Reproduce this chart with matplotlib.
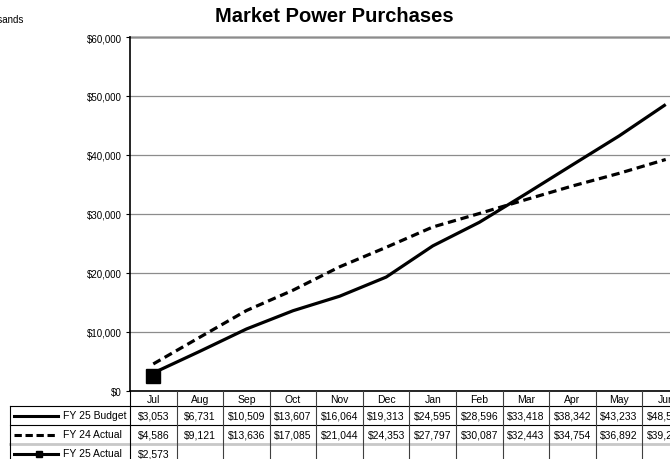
import matplotlib
matplotlib.use("Agg")
import matplotlib.pyplot as plt
from matplotlib.lines import Line2D
from matplotlib.ticker import FuncFormatter, MultipleLocator
import numpy as np

months = ["Jul", "Aug", "Sep", "Oct", "Nov", "Dec", "Jan", "Feb", "Mar", "Apr", "May", "Jun"]
fy25_budget = [3053, 6731, 10509, 13607, 16064, 19313, 24595, 28596, 33418, 38342, 43233, 48560]
fy24_actual = [4586, 9121, 13636, 17085, 21044, 24353, 27797, 30087, 32443, 34754, 36892, 39240]
fy25_actual = [2573]
series_names = ["FY 25 Budget", "FY 24 Actual", "FY 25 Actual"]

W, H = 670, 460
plt.rcParams['font.family'] = ['Liberation Sans', 'DejaVu Sans']
fig = plt.figure(figsize=(W / 100, H / 100), dpi=100)

def fx(px):
    return px / W

def fy(py):
    return (H - py) / H

# plot area in pixels
L, R, T, B = 130, 689, 38, 392
ax = fig.add_axes([fx(L), fy(B), fx(R - L), (B - T) / H])

x = np.arange(len(months))
lw = 2.3
ax.plot(x, fy25_budget, color="black", lw=lw, solid_capstyle="butt", zorder=3)
ax.plot(x, fy24_actual, color="black", lw=lw, dashes=(2.6, 1.5), zorder=3)
ax.plot(np.arange(len(fy25_actual)), fy25_actual, color="black", lw=lw,
        marker="s", markersize=9.5, zorder=4)

ax.set_xlim(-0.5, len(months) - 0.5)
ax.set_ylim(0, 60000)
ax.yaxis.set_major_locator(MultipleLocator(10000))
ax.yaxis.set_major_formatter(FuncFormatter(lambda v, p: f"${v:,.0f}"))
ax.tick_params(axis="y", direction="out", length=3, width=0.8, labelsize=7, pad=3)
ax.tick_params(axis="x", bottom=False, labelbottom=False)
ax.grid(axis="y", color="#8c8c8c", lw=0.9, zorder=0)
for s in ["top", "right"]:
    ax.spines[s].set_visible(False)
ax.spines["left"].set_linewidth(1.2)
ax.spines["bottom"].set_linewidth(1.2)
ax.axhline(60000, color="#a0a0a0", lw=1.8, zorder=1, clip_on=False)

# title and unit note
fig.text(fx(334), fy(17), "Market Power Purchases", ha="center", va="center",
         fontsize=14.5, fontweight="bold")
fig.text(fx(23), fy(20), "$ in Thousands", ha="right", va="center", fontsize=7)

# data table
cell_font = ['Liberation Sans', 'DejaVu Sans']
colw = (R - L) / len(months)
row_tops = [392, 407, 426, 445, 464]

def hline(y, x0, x1, color="black", lw=0.8):
    fig.add_artist(Line2D([fx(x0), fx(x1)], [fy(y), fy(y)], color=color, lw=lw))

def vline(xp, y0, y1, color="black", lw=0.8):
    fig.add_artist(Line2D([fx(xp), fx(xp)], [fy(y0), fy(y1)], color=color, lw=lw))

hline(407, 10, R)
hline(426, 10, R)
hline(445, 10, R, color="#c8c8c8", lw=2.0)
vline(10, 407, 464)
vline(L, 392, 464)
for i in range(1, len(months) + 1):
    vline(L + i * colw, 392, 464, color="#404040", lw=0.8)

for i, m in enumerate(months):
    fig.text(fx(L + (i + 0.5) * colw), fy(400), m, ha="center", va="center",
             fontsize=7.5, family=cell_font)

rows = [fy25_budget, fy24_actual, fy25_actual]
for r, vals in enumerate(rows):
    yc = (row_tops[r + 1] + row_tops[r + 2]) / 2
    for i, v in enumerate(vals):
        fig.text(fx(L + (i + 0.5) * colw), fy(yc), f"${v:,.0f}", ha="center",
                 va="center", fontsize=7.5, family=cell_font)
    fig.text(fx(63), fy(yc), series_names[r], ha="left", va="center",
             fontsize=7.5, family=cell_font)

# legend keys
ky = [(407 + 426) / 2, (426 + 445) / 2, (445 + 464) / 2]
fig.add_artist(Line2D([fx(14), fx(58)], [fy(ky[0])] * 2, color="black", lw=2.2))
fig.add_artist(Line2D([fx(14), fx(58)], [fy(ky[1])] * 2, color="black", lw=2.2,
                      dashes=(2.4, 1.2)))
fig.add_artist(Line2D([fx(14), fx(58)], [fy(ky[2])] * 2, color="black", lw=2.2))
fig.add_artist(Line2D([fx(39)], [fy(ky[2])], color="black", marker="s",
                      markersize=4.5, lw=0))

fig.savefig("out.png", dpi=100)
